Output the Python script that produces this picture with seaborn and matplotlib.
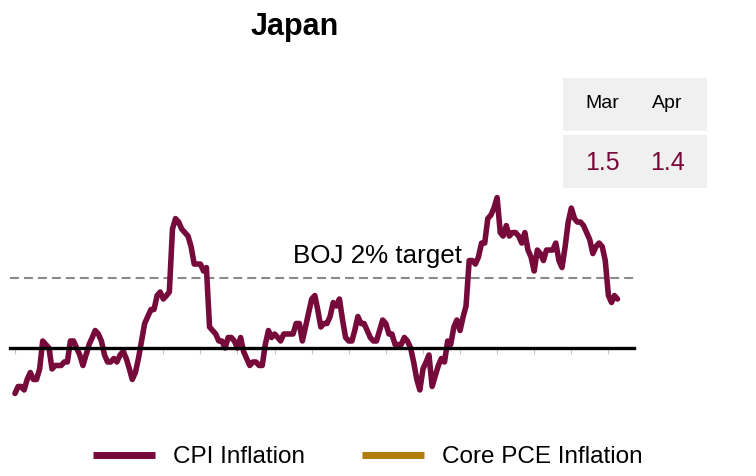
import pandas as pd
import matplotlib.pyplot as plt
import seaborn as sns
from matplotlib.lines import Line2D
from matplotlib.patches import Rectangle

# 前年比CPI (月次, 2010/01 - 2026/04)
cpi_by_year = {
    2010: [-1.3, -1.1, -1.1, -1.2, -0.9, -0.7, -0.9, -0.9, -0.6, 0.2, 0.1, 0.0],
    2011: [-0.6, -0.5, -0.5, -0.5, -0.4, -0.4, 0.2, 0.2, 0.0, -0.2, -0.5, -0.2],
    2012: [0.1, 0.3, 0.5, 0.4, 0.2, -0.2, -0.4, -0.4, -0.3, -0.4, -0.2, -0.1],
    2013: [-0.3, -0.6, -0.9, -0.7, -0.3, 0.2, 0.7, 0.9, 1.1, 1.1, 1.5, 1.6],
    2014: [1.4, 1.5, 1.6, 3.4, 3.7, 3.6, 3.4, 3.3, 3.2, 2.9, 2.4, 2.4],
    2015: [2.4, 2.2, 2.3, 0.6, 0.5, 0.4, 0.2, 0.2, 0.0, 0.3, 0.3, 0.2],
    2016: [0.0, 0.3, -0.1, -0.3, -0.5, -0.4, -0.4, -0.5, -0.5, 0.1, 0.5, 0.3],
    2017: [0.4, 0.3, 0.2, 0.4, 0.4, 0.4, 0.4, 0.7, 0.7, 0.2, 0.6, 1.0],
    2018: [1.4, 1.5, 1.1, 0.6, 0.7, 0.7, 0.9, 1.3, 1.2, 1.4, 0.8, 0.3],
    2019: [0.2, 0.2, 0.5, 0.9, 0.7, 0.7, 0.5, 0.3, 0.2, 0.2, 0.5, 0.8],
    2020: [0.7, 0.4, 0.4, 0.1, 0.1, 0.1, 0.3, 0.2, 0.0, -0.4, -0.9, -1.2],
    2021: [-0.6, -0.4, -0.2, -1.1, -0.8, -0.5, -0.3, -0.4, 0.2, 0.1, 0.6, 0.8],
    2022: [0.5, 0.9, 1.2, 2.5, 2.5, 2.4, 2.6, 3.0, 3.0, 3.7, 3.8, 4.0],
    2023: [4.3, 3.3, 3.2, 3.5, 3.2, 3.3, 3.3, 3.2, 3.0, 3.3, 2.8, 2.6],
    2024: [2.2, 2.8, 2.7, 2.5, 2.8, 2.8, 2.8, 3.0, 2.5, 2.3, 2.9, 3.6],
    2025: [4.0, 3.7, 3.6, 3.6, 3.5, 3.3, 3.1, 2.7, 2.9, 3.0, 2.9, 2.5],
    2026: [1.5, 1.3, 1.5, 1.4],
}
cpi = [v for yr in sorted(cpi_by_year) for v in cpi_by_year[yr]]
dates = pd.date_range("2010-01-01", periods=len(cpi), freq="MS")

target = 2.0
table_months = ["Mar", "Apr"]
table_values = ["1.5", "1.4"]
legend_labels = ["CPI Inflation", "Core PCE Inflation"]

maroon = "#760a3b"
gold = "#b07c0b"

sns.set_theme(style="white")
plt.rcParams["font.family"] = ["Liberation Sans", "DejaVu Sans"]
plt.rcParams["text.color"] = "black"

W, H = 756, 476
fig = plt.figure(figsize=(W / 100, H / 100), dpi=100)
ax = fig.add_axes([10 / W, 1 - 405 / H, 624 / W, 220 / H])

sns.lineplot(x=dates, y=cpi, color=maroon, linewidth=4.0, ax=ax)
for l in ax.lines:
    l.set_solid_joinstyle("round")
    l.set_solid_capstyle("round")

# 日銀2%目標
ax.axhline(target, color="#8a8a8a", linewidth=1.5, linestyle=(0, (4.3, 2.4)), zorder=1)
ax.text(pd.Timestamp("2022-01-20"), target + 0.43, "BOJ 2% target",
        ha="right", va="baseline", fontsize=18.7)

ax.set_xlim(pd.Timestamp("2009-11-13"), pd.Timestamp("2026-09-10"))
ax.set_ylim(-1.63, 4.66)

# 0の線 + 毎年1月の目盛
for s in ["top", "right", "left"]:
    ax.spines[s].set_visible(False)
ax.spines["bottom"].set_position(("data", 0))
ax.spines["bottom"].set_color("black")
ax.spines["bottom"].set_linewidth(2.4)
ax.spines["bottom"].set_zorder(3)
ax.set_xticks(pd.date_range("2010-01-01", "2026-01-01", freq="YS"))
ax.tick_params(axis="x", direction="out", length=4, width=0.8, color="#c8c8c8",
               labelbottom=False, bottom=True)
ax.set_yticks([])
ax.set_xlabel("")
ax.set_ylabel("")

# タイトル
fig.text(295 / W, 1 - 35 / H, "Japan", ha="center", va="baseline",
         fontsize=22, fontweight="bold")

# 右上の表
for top in [78, 135]:
    fig.add_artist(Rectangle((563 / W, 1 - (top + 53) / H), 144 / W, 53 / H,
                             transform=fig.transFigure, facecolor="#f0f0f0",
                             edgecolor="none"))
for xc, m, v in zip([602, 667], table_months, table_values):
    fig.text(xc / W, 1 - 104 / H, m, ha="center", va="center", fontsize=14)
    fig.text(xc / W, 1 - 163 / H, v, ha="center", va="center", fontsize=18,
             color=maroon)

# 凡例
handles = [Line2D([], [], color=maroon, linewidth=5, solid_capstyle="butt"),
           Line2D([], [], color=gold, linewidth=5, solid_capstyle="butt")]
fig.legend(handles, legend_labels, loc="center", bbox_to_anchor=(368 / W, 1 - 457 / H),
           ncol=2, frameon=False, fontsize=17.5, handlelength=2.55,
           handletextpad=0.74, columnspacing=2.35)

plt.savefig("out.png", dpi=100)
